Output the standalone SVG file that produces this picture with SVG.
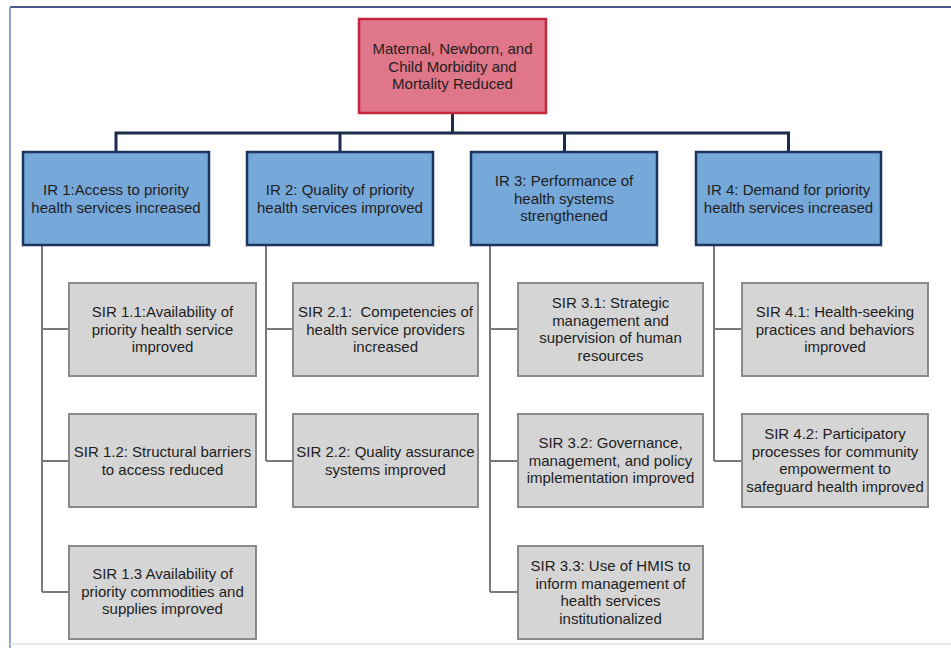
<svg xmlns="http://www.w3.org/2000/svg" width="951" height="648" viewBox="0 0 951 648">
<style>
text{font-family:"Liberation Sans",Arial,sans-serif;font-size:15px;fill:#1e1e1e;text-anchor:middle}
.goal{fill:#df7689;stroke:#c4263e;stroke-width:2.5}
.ir{fill:#76a8da;stroke:#1a3560;stroke-width:2.5}
.sir{fill:#d5d5d5;stroke:#8a8a8a;stroke-width:2}
.top{fill:none;stroke:#1c2b4a;stroke-width:3}
.sub{fill:none;stroke:#7a7a7a;stroke-width:2}
</style>
<rect width="951" height="648" fill="#ffffff"/>
<g id="frame">
<line x1="10" y1="7" x2="951" y2="7" stroke="#4a5a8a" stroke-width="2"/>
<line x1="10" y1="7" x2="10" y2="648" stroke="#7080c0" stroke-width="1.5"/>
<line x1="10" y1="644" x2="951" y2="644" stroke="#dde3ea" stroke-width="1.5"/>
</g>
<g id="connectors">
<path class="top" d="M452.5 113V133M116 152V133H788.5V152M340 133V152M564.5 133V152"/>
<path class="sub" d="M42 245V592M42 329H69M42 461H69M42 592H69"/>
<path class="sub" d="M266 245V461M266 329H293M266 461H293"/>
<path class="sub" d="M490 245V592M490 329H518M490 461H518M490 592H518"/>
<path class="sub" d="M714 245V461M714 329H742M714 461H742"/>
</g>
<g id="goal">
<rect class="goal" x="359" y="19" width="187" height="94"/>
<text x="452.5" y="54">Maternal, Newborn, and</text>
<text x="452.5" y="71.5">Child Morbidity and</text>
<text x="452.5" y="89">Mortality Reduced</text>
</g>
<g id="ir1">
<rect class="ir" x="23" y="152" width="186" height="93"/>
<text x="116" y="195">IR 1:Access to priority</text>
<text x="116" y="212.5">health services increased</text>
</g>
<g id="ir2">
<rect class="ir" x="247" y="152" width="186" height="93"/>
<text x="340" y="195">IR 2: Quality of priority</text>
<text x="340" y="212.5">health services improved</text>
</g>
<g id="ir3">
<rect class="ir" x="471" y="152" width="186" height="93"/>
<text x="564" y="186">IR 3: Performance of</text>
<text x="564" y="203.5">health systems</text>
<text x="564" y="221">strengthened</text>
</g>
<g id="ir4">
<rect class="ir" x="696" y="152" width="185" height="93"/>
<text x="788.5" y="195">IR 4: Demand for priority</text>
<text x="788.5" y="212.5">health services increased</text>
</g>
<g id="sir11">
<rect class="sir" x="69" y="283" width="187" height="93"/>
<text x="162.5" y="317">SIR 1.1:Availability of</text>
<text x="162.5" y="334.5">priority health service</text>
<text x="162.5" y="352">improved</text>
</g>
<g id="sir12">
<rect class="sir" x="69" y="414" width="187" height="93"/>
<text x="162.5" y="457">SIR 1.2: Structural barriers</text>
<text x="162.5" y="474.5">to access reduced</text>
</g>
<g id="sir13">
<rect class="sir" x="69" y="546" width="187" height="93"/>
<text x="162.5" y="579">SIR 1.3 Availability of</text>
<text x="162.5" y="596.5">priority commodities and</text>
<text x="162.5" y="614">supplies improved</text>
</g>
<g id="sir21">
<rect class="sir" x="293" y="283" width="185" height="93"/>
<text x="385.5" y="317" xml:space="preserve">SIR 2.1:  Competencies of</text>
<text x="385.5" y="334.5">health service providers</text>
<text x="385.5" y="352">increased</text>
</g>
<g id="sir22">
<rect class="sir" x="293" y="414" width="185" height="93"/>
<text x="385.5" y="457">SIR 2.2: Quality assurance</text>
<text x="385.5" y="474.5">systems improved</text>
</g>
<g id="sir31">
<rect class="sir" x="518" y="283" width="185" height="93"/>
<text x="610.5" y="308">SIR 3.1: Strategic</text>
<text x="610.5" y="325.5">management and</text>
<text x="610.5" y="343">supervision of human</text>
<text x="610.5" y="360.5">resources</text>
</g>
<g id="sir32">
<rect class="sir" x="518" y="414" width="185" height="93"/>
<text x="610.5" y="448">SIR 3.2: Governance,</text>
<text x="610.5" y="465.5">management, and policy</text>
<text x="610.5" y="483">implementation improved</text>
</g>
<g id="sir33">
<rect class="sir" x="518" y="546" width="185" height="93"/>
<text x="610.5" y="571">SIR 3.3: Use of HMIS to</text>
<text x="610.5" y="588.5">inform management of</text>
<text x="610.5" y="606">health services</text>
<text x="610.5" y="623.5">institutionalized</text>
</g>
<g id="sir41">
<rect class="sir" x="742" y="283" width="186" height="93"/>
<text x="835" y="317">SIR 4.1: Health-seeking</text>
<text x="835" y="334.5">practices and behaviors</text>
<text x="835" y="352">improved</text>
</g>
<g id="sir42">
<rect class="sir" x="742" y="414" width="186" height="93"/>
<text x="835" y="439">SIR 4.2: Participatory</text>
<text x="835" y="456.5">processes for community</text>
<text x="835" y="474">empowerment to</text>
<text x="835" y="491.5">safeguard health improved</text>
</g>
</svg>
